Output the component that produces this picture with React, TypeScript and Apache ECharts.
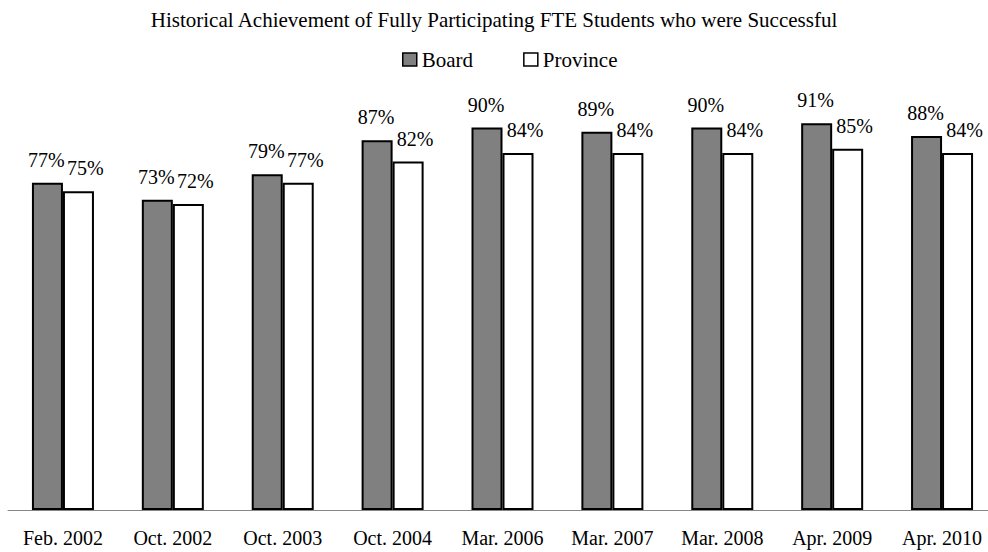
import React, { useEffect, useRef } from "react";
import * as echarts from "echarts";

const categories = ["Feb. 2002", "Oct. 2002", "Oct. 2003", "Oct. 2004", "Mar. 2006", "Mar. 2007", "Mar. 2008", "Apr. 2009", "Apr. 2010"];
const boardValues = [77, 73, 79, 87, 90, 89, 90, 91, 88];
const provinceValues = [75, 72, 77, 82, 84, 84, 84, 85, 84];
const chartTitle = "Historical Achievement of Fully Participating FTE Students who were Successful";

const FONT = "'Liberation Serif', 'Times New Roman', serif";
const SHIFT = 12; // inner canvas shifted left so the plot can extend past the right edge

export default function App() {
  const ref = useRef<HTMLDivElement>(null);
  useEffect(() => {
    if (!ref.current) return;
    const chart = echarts.init(ref.current, null, { renderer: "svg" });
    chart.setOption({
      animation: false,
      backgroundColor: "#ffffff",
      textStyle: { fontFamily: FONT, color: "#000" },
      title: {
        text: chartTitle,
        left: "center",
        top: 4,
        textStyle: { fontFamily: FONT, fontSize: 21, fontWeight: "normal", color: "#000" },
      },
      legend: {
        top: 44,
        left: 397 + SHIFT,
        itemWidth: 14,
        itemHeight: 13,
        itemGap: 50,
        textStyle: { fontFamily: FONT, fontSize: 21, color: "#000" },
        data: [
          { name: "Board", icon: "rect", itemStyle: { color: "#808080", borderColor: "#000", borderWidth: 1.5 } },
          { name: "Province", icon: "rect", itemStyle: { color: "#fff", borderColor: "#000", borderWidth: 1.5 } },
        ],
      },
      grid: { left: 8 + SHIFT, top: 85, width: 989, height: 425, containLabel: false },
      xAxis: {
        type: "category",
        data: categories,
        axisLine: { show: true, lineStyle: { color: "#868686", width: 1 } },
        axisTick: { show: false },
        axisLabel: { fontFamily: FONT, fontSize: 20, color: "#000", margin: 18, interval: 0 },
      },
      yAxis: {
        type: "value",
        min: 0,
        max: 100,
        show: false,
        splitLine: { show: false },
      },
      series: [
        {
          name: "Board",
          type: "bar",
          data: boardValues,
          barWidth: 31,
          barGap: "0%",
          itemStyle: { color: "#808080", borderColor: "#000", borderWidth: 2 },
          label: {
            show: true,
            position: "top",
            distance: 13,
            offset: [-1, 0],
            formatter: "{c}%",
            fontFamily: FONT,
            fontSize: 20,
            color: "#000",
          },
        },
        {
          name: "Province",
          type: "bar",
          data: provinceValues,
          barWidth: 31,
          itemStyle: { color: "#fff", borderColor: "#000", borderWidth: 2 },
          label: {
            show: true,
            position: "top",
            distance: 13,
            offset: [7, 0],
            formatter: "{c}%",
            fontFamily: FONT,
            fontSize: 20,
            color: "#000",
          },
        },
      ],
    });
    return () => chart.dispose();
  }, []);
  return (
    <div style={{ position: "absolute", left: 0, top: 0, width: 988, height: 552, overflow: "hidden", background: "#fff" }}>
      <div ref={ref} style={{ position: "absolute", left: -SHIFT, top: 0, width: 988 + 2 * SHIFT, height: 552 }} />
    </div>
  );
}
